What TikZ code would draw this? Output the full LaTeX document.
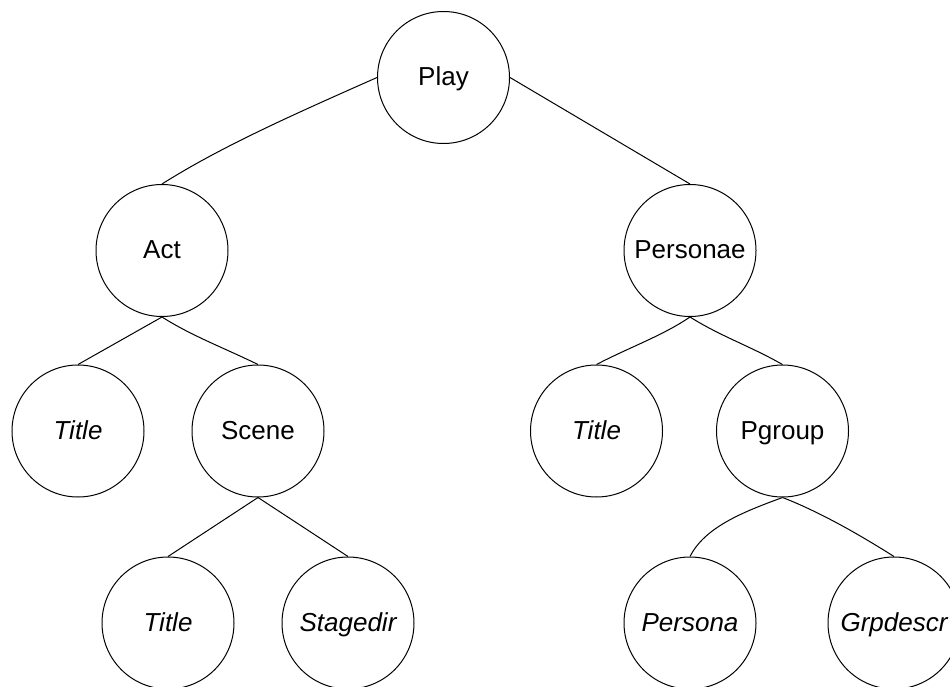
\documentclass[tikz,border=0pt]{standalone}
\usepackage{fontspec}
\setmainfont{Liberation Sans}
\begin{document}
\begin{tikzpicture}[x=1pt,y=-1pt,
  nd/.style={draw, circle, minimum size=132pt, inner sep=0pt, line width=1pt,
    text height=19pt, text depth=3pt, font=\fontsize{26}{30}\selectfont},
  itnd/.style={nd, font=\fontsize{26}{30}\selectfont\itshape},
  edge/.style={line width=1pt}]
\useasboundingbox (0,0) rectangle (950,687);
% level 0
\node[nd] (play) at (443.5,77.5) {Play};
% level 1
\node[nd] (act) at (162,250.5) {Act};
\node[nd] (personae) at (690,250.5) {Personae};
% level 2
\node[itnd] (title1) at (78,431) {Title};
\node[nd] (scene) at (258,431) {Scene};
\node[itnd] (title2) at (596.5,431) {Title};
\node[nd] (pgroup) at (782.5,431) {Pgroup};
% level 3
\node[itnd] (title3) at (168,623) {Title};
\node[itnd] (stagedir) at (348,623) {Stagedir};
\node[itnd] (persona) at (690,623) {Persona};
\node[itnd] (grpdescr) at (894,623) {Grpdescr};
% connectors
\draw[edge] (play.west) .. controls (297,113) and (222,146) .. (act.north);
\draw[edge] (play.east) -- (personae.north);
\draw[edge] (act.south) -- (title1.north);
\draw[edge] (act.south) .. controls (192,336) and (222,347) .. (scene.north);
\draw[edge] (personae.south) .. controls (662,336) and (630,347) .. (title2.north);
\draw[edge] (personae.south) .. controls (720,336) and (750,346) .. (pgroup.north);
\draw[edge] (scene.south) -- (title3.north);
\draw[edge] (scene.south) -- (stagedir.north);
\draw[edge] (pgroup.south) .. controls (743,512) and (705,527) .. (persona.north);
\draw[edge] (pgroup.south) .. controls (820,512) and (860,535) .. (grpdescr.north);
\end{tikzpicture}
\end{document}
